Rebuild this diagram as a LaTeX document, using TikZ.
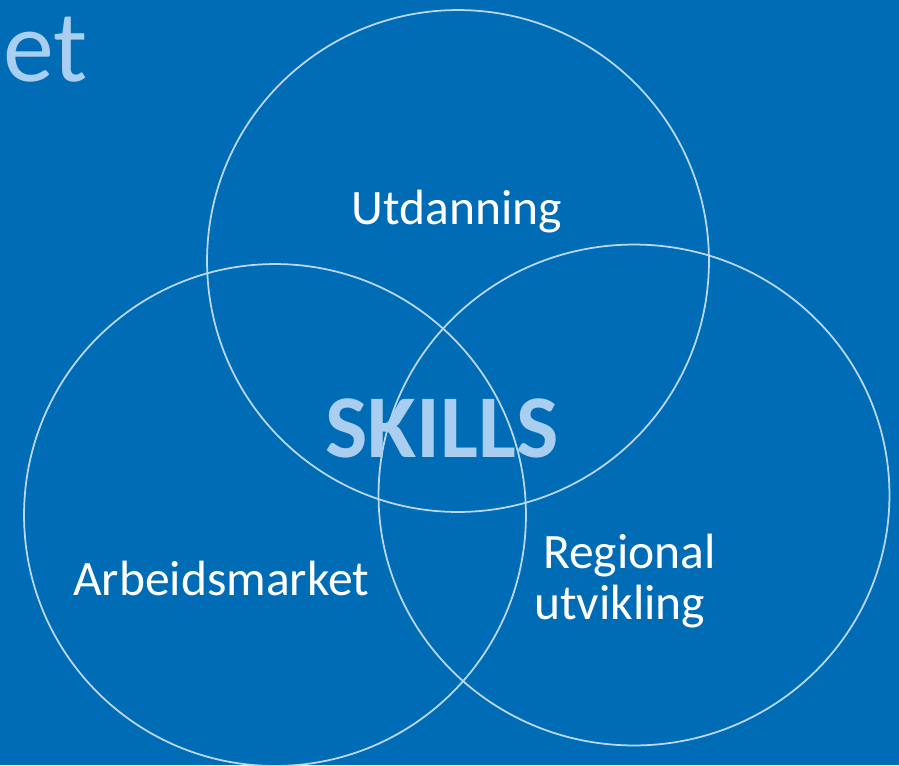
\documentclass[tikz,border=0pt]{standalone}
\usepackage{fontspec}
\setmainfont{Carlito}
\definecolor{slidebg}{RGB}{0,108,182}
\definecolor{paleblue}{RGB}{170,206,240}
\definecolor{ringcol}{RGB}{186,216,242}
\tikzset{
  ring/.style={draw=ringcol,line width=1pt},
  label/.style={text=white,font=\fontsize{28.2}{33}\selectfont,inner sep=0pt},
}
\begin{document}
\begin{tikzpicture}[x=0.02cm,y=-0.02cm]
				\fill[slidebg] (0,0) rectangle (899,765);
				\useasboundingbox (0,0) rectangle (899,765);
				\coordinate (ctop) at (458,261);
				\coordinate (cleft) at (275,515);
				\coordinate (cright) at (634,495);
				\draw[ring] (ctop) circle[radius=5.02cm];
				\draw[ring] (cleft) circle[radius=5.02cm];
				\draw[ring] (cright) ellipse[x radius=5.11cm,y radius=5.01cm];
				\node[anchor=base west,inner sep=0pt,text=paleblue,font=\fontsize{58}{62}\selectfont] (title) at (3,81) {et};
				\node[label] (utd) at (457,212) {Utdanning};
				\node[label] (arb) at (221,578) {Arbeidsmarket};
				\node[label,align=left] (reg) at (625,581) {\hspace{5pt}Regional\\[-4pt]utvikling};
				\node[inner sep=0pt,text=paleblue,font=\bfseries\fontsize{51}{56}\selectfont] (skills) at (442,428) {SKILLS};
			\end{tikzpicture}
\end{document}
